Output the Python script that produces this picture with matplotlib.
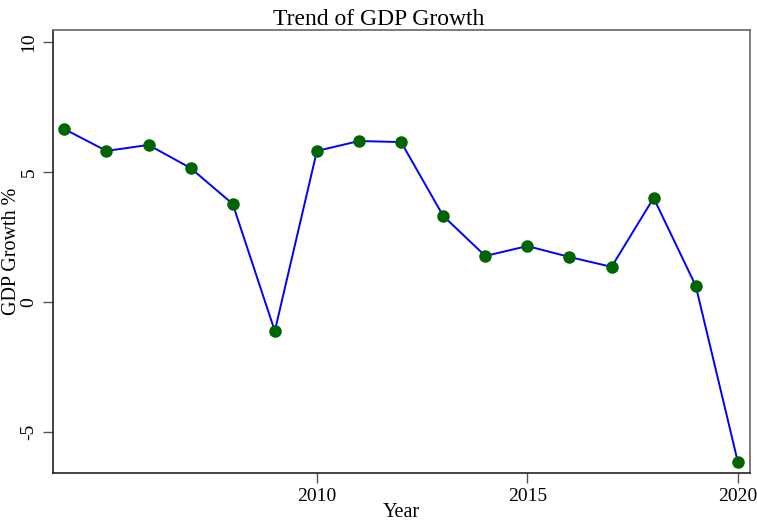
import matplotlib
matplotlib.use('Agg')
import matplotlib.pyplot as plt

years = [2004, 2005, 2006, 2007, 2008, 2009, 2010, 2011, 2012,
         2013, 2014, 2015, 2016, 2017, 2018, 2019, 2020]
gdp_growth = [6.65, 5.81, 6.04, 5.15, 3.77, -1.12, 5.81, 6.19, 6.15,
              3.31, 1.77, 2.15, 1.73, 1.35, 4.0, 0.62, -6.15]
x_ticks = [2010, 2015, 2020]
y_ticks = [-5, 0, 5, 10]

plt.rcParams['font.family'] = ['Liberation Serif', 'DejaVu Serif']

fig = plt.figure(figsize=(7.57, 5.24), dpi=100)
ax = fig.add_axes([0.070, 0.0973, 0.9208, 0.8454])

ax.plot(years, gdp_growth, color='blue', linewidth=1.4, zorder=2)
ax.plot(years, gdp_growth, 'o', color='#006400', markersize=8, zorder=3)

ax.set_xlim(2003.73, 2020.29)
ax.set_ylim(-6.58, 10.46)
ax.set_xticks(x_ticks)
ax.set_yticks(y_ticks)
ax.set_yticklabels([str(v) for v in y_ticks], rotation=90, va='center')

ax.tick_params(direction='out', length=7, width=1, color='#555555',
               labelsize=14, pad=4)
ax.spines['left'].set_color('#222222')
ax.spines['bottom'].set_color('#222222')
ax.spines['top'].set_color('#666666')
ax.spines['right'].set_color('#666666')
for s in ax.spines.values():
    s.set_linewidth(1.2)

# title is centred on the whole figure, not the plot area
ax.set_title('Trend of GDP Growth', fontsize=17, pad=2, x=0.467)
ax.set_xlabel('Year', fontsize=14.5, labelpad=-2)
ax.set_ylabel('GDP Growth %', fontsize=14.5, labelpad=0)

plt.savefig('out.png', dpi=100)
